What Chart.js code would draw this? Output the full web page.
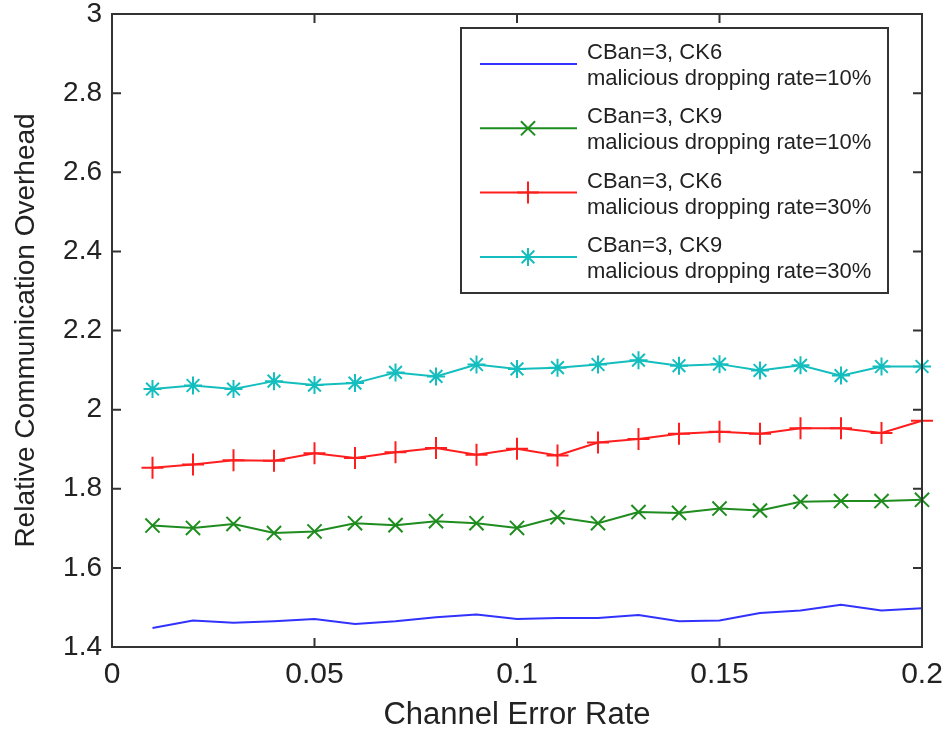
<!DOCTYPE html>
<html>
<head>
<meta charset="utf-8">
<script src="https://cdn.jsdelivr.net/npm/chart.js@4"></script>
<style>
  body { margin: 0; background: #fff; }
  canvas { display: block; }
</style>
</head>
<body>
<canvas id="myChart" width="949" height="731"></canvas>
<script>
const errorRates = [0.01, 0.02, 0.03, 0.04, 0.05, 0.06, 0.07, 0.08, 0.09, 0.10,
  0.11, 0.12, 0.13, 0.14, 0.15, 0.16, 0.17, 0.18, 0.19, 0.20];

const blue10 = [1.448, 1.467, 1.461, 1.465, 1.471, 1.458, 1.465, 1.475, 1.482, 1.471,
  1.473, 1.473, 1.481, 1.465, 1.467, 1.486, 1.492, 1.507, 1.492, 1.498];
const green10 = [1.707, 1.701, 1.711, 1.688, 1.692, 1.713, 1.708, 1.718, 1.713, 1.701,
  1.728, 1.713, 1.741, 1.739, 1.750, 1.745, 1.767, 1.769, 1.769, 1.772];
const red30 = [1.853, 1.861, 1.872, 1.871, 1.890, 1.878, 1.892, 1.903, 1.886, 1.901,
  1.884, 1.917, 1.926, 1.939, 1.944, 1.939, 1.953, 1.953, 1.941, 1.972];
const cyan30 = [2.052, 2.061, 2.052, 2.072, 2.062, 2.067, 2.094, 2.084, 2.114, 2.103,
  2.106, 2.114, 2.125, 2.111, 2.115, 2.099, 2.112, 2.086, 2.109, 2.109];

const seriesNames = [
  ['CBan=3, CK6', 'malicious dropping rate=10%'],
  ['CBan=3, CK9', 'malicious dropping rate=10%'],
  ['CBan=3, CK6', 'malicious dropping rate=30%'],
  ['CBan=3, CK9', 'malicious dropping rate=30%'],
];

const xTicks = [0, 0.05, 0.1, 0.15, 0.2];
const yTicks = [1.4, 1.6, 1.8, 2, 2.2, 2.4, 2.6, 2.8, 3];

function pts(vals) {
  return vals.map((v, i) => ({ x: errorRates[i], y: v }));
}

const fmt = v => String(+Number(v).toFixed(2));

// matlab style box with inward ticks
const boxPlugin = {
  id: 'box',
  afterDraw(chart) {
    const ctx = chart.ctx;
    const a = chart.chartArea;
    const xs = chart.scales.x, ys = chart.scales.y;
    ctx.save();
    ctx.strokeStyle = '#333';
    ctx.lineWidth = 2;
    ctx.strokeRect(a.left, a.top, a.right - a.left, a.bottom - a.top);
    ctx.beginPath();
    xs.ticks.forEach(t => {
      const px = xs.getPixelForValue(t.value);
      ctx.moveTo(px, a.bottom); ctx.lineTo(px, a.bottom - 9);
      ctx.moveTo(px, a.top); ctx.lineTo(px, a.top + 9);
    });
    ys.ticks.forEach(t => {
      const py = ys.getPixelForValue(t.value);
      ctx.moveTo(a.left, py); ctx.lineTo(a.left + 9, py);
      ctx.moveTo(a.right, py); ctx.lineTo(a.right - 9, py);
    });
    ctx.stroke();
    ctx.restore();
  }
};

// legend box with two-line labels
const legendBox = {
  id: 'legendBox',
  afterDraw(chart) {
    const ctx = chart.ctx;
    const bx = 461, by = 28, bw = 427, bh = 265;
    ctx.save();
    ctx.fillStyle = '#fff';
    ctx.fillRect(bx, by, bw, bh);
    ctx.strokeStyle = '#333';
    ctx.lineWidth = 2;
    ctx.strokeRect(bx, by, bw, bh);
    chart.data.datasets.forEach((ds, i) => {
      const y = 64 + 64.3 * i;
      ctx.strokeStyle = ds.borderColor;
      ctx.lineWidth = 2;
      ctx.beginPath();
      ctx.moveTo(480, y); ctx.lineTo(577, y);
      ctx.stroke();
      if (ds.pointStyle) {
        Chart.helpers.drawPoint(ctx, {
          pointStyle: ds.pointStyle, radius: ds.pointRadius, rotation: 0, borderWidth: 2
        }, 528, y);
      }
      ctx.fillStyle = '#222';
      ctx.font = '22px "Liberation Sans", Arial, sans-serif';
      ctx.textBaseline = 'middle';
      ctx.textAlign = 'left';
      ctx.fillText(seriesNames[i][0], 587, y - 11);
      ctx.fillText(seriesNames[i][1], 587, y + 15);
    });
    ctx.restore();
  }
};

const data = {
  datasets: [{
    label: seriesNames[0].join(' '),
    data: pts(blue10),
    borderColor: 'rgb(50, 50, 255)',
    backgroundColor: 'rgb(50, 50, 255)',
    pointRadius: 0,
    pointStyle: false,
  },
  {
    label: seriesNames[1].join(' '),
    data: pts(green10),
    borderColor: 'rgb(30, 140, 30)',
    backgroundColor: 'rgb(30, 140, 30)',
    pointStyle: 'crossRot',
    pointRadius: 10,
  },
  {
    label: seriesNames[2].join(' '),
    data: pts(red30),
    borderColor: 'rgb(255, 30, 30)',
    backgroundColor: 'rgb(255, 30, 30)',
    pointStyle: 'cross',
    pointRadius: 11,
  },
  {
    label: seriesNames[3].join(' '),
    data: pts(cyan30),
    borderColor: 'rgb(20, 190, 190)',
    backgroundColor: 'rgb(20, 190, 190)',
    pointStyle: 'star',
    pointRadius: 9,
  }
  ]
};

const config = {
  type: 'line',
  data: data,
  options: {
    responsive: false,
    animation: false,
    clip: false,
    layout: {
      padding: { left: 0, right: 27, top: 14, bottom: 0 }
    },
    elements: {
      line: { borderWidth: 2, tension: 0 },
      point: { borderWidth: 2, hoverRadius: 0 }
    },
    plugins: {
      legend: { display: false },
      tooltip: { enabled: false }
    },
    scales: {
      x: {
        type: 'linear',
        min: 0, max: 0.2,
        afterBuildTicks: s => { s.ticks = xTicks.map(v => ({ value: v })); },
        afterFit: s => { s.height = 84; s.paddingLeft = 0; s.paddingRight = 0; },
        grid: { display: false, drawTicks: false },
        border: { display: false },
        ticks: {
          callback: fmt,
          color: '#222',
          padding: 10,
          maxRotation: 0,
          font: { family: '"Liberation Sans", Arial, sans-serif', size: 30 }
        },
        title: {
          display: true,
          text: 'Channel Error Rate',
          color: '#222',
          padding: { top: 0, bottom: 0 },
          font: { family: '"Liberation Sans", Arial, sans-serif', size: 31, lineHeight: 1 }
        }
      },
      y: {
        min: 1.4, max: 3,
        afterBuildTicks: s => { s.ticks = yTicks.map(v => ({ value: v })); },
        afterFit: s => { s.width = 112; s.paddingTop = 0; s.paddingBottom = 0; },
        grid: { display: false, drawTicks: false },
        border: { display: false },
        ticks: {
          callback: fmt,
          color: '#222',
          padding: 10,
          font: { family: '"Liberation Sans", Arial, sans-serif', size: 28 }
        },
        title: {
          display: true,
          text: 'Relative Communication Overhead',
          color: '#222',
          padding: { top: 9, bottom: 0 },
          font: { family: '"Liberation Sans", Arial, sans-serif', size: 28 }
        }
      }
    }
  },
  plugins: [boxPlugin, legendBox]
};

const myChart = new Chart(
  document.getElementById('myChart'),
  config
);
</script>
</body>
</html>
